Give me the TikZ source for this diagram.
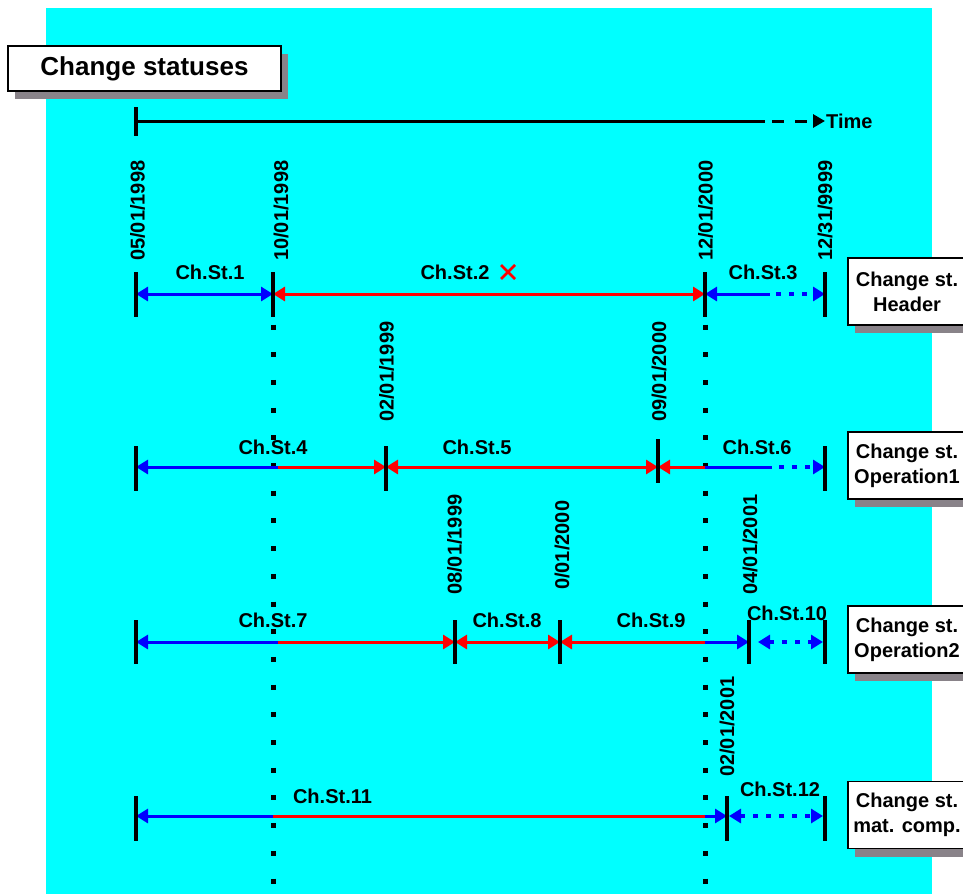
\documentclass[tikz,border=0pt]{standalone}
\usepackage{fontspec}
\setmainfont{Liberation Sans}
\usetikzlibrary{arrows.meta,shadows}
\definecolor{bgcyan}{RGB}{0,255,255}
\definecolor{shadowgrey}{RGB}{137,131,137}
\definecolor{lineblue}{RGB}{0,0,255}
\definecolor{linered}{RGB}{255,0,0}
\begin{document}
\begin{tikzpicture}[x=1pt,y=-1pt,
  font=\fontsize{20}{25}\selectfont\bfseries,
  >={Triangle[length=12pt,width=14pt]},
  tickmark/.style={line width=4pt},
  bl/.style={draw=lineblue,line width=3pt},
  rd/.style={draw=linered,line width=3pt},
  dotblue/.style={bl,line width=3.5pt,dash pattern=on 4.5pt off 8.5pt},
  vdots/.style={line width=5pt,dash pattern=on 5pt off 22.7pt},
  datelbl/.style={rotate=90,anchor=west,inner sep=0pt},
  chlbl/.style={inner sep=0pt},
  boxshadow/.style={general shadow={fill=shadowgrey,shadow xshift=7pt,shadow yshift=-8pt,opacity=1}},
  statbox/.style={draw=black,line width=1.3pt,fill=white,minimum width=118pt,minimum height=67pt,align=center,inner sep=0pt,boxshadow},
  titlebox/.style={draw=black,line width=1.5pt,fill=white,minimum width=273pt,minimum height=45pt,inner sep=0pt,font=\fontsize{26}{30}\selectfont\bfseries,boxshadow}]
\useasboundingbox (0,0) rectangle (963,894);
\clip (0,0) rectangle (963,894);
\fill[bgcyan] (46,8) rectangle (932,894);

% title
\node[titlebox] (title) at (144.5,68.5) {Change statuses};

% time axis
\coordinate (t0) at (136,121);
\coordinate (t1) at (765,121);
\coordinate (t2) at (772,121);
\coordinate (t3) at (825,121);
\draw[line width=3pt] (t0) -- (t1);
\draw[line width=3pt,dash pattern=on 12pt off 11pt,-{Triangle[length=12pt,width=13pt]}] (t2) -- (t3);
\draw[tickmark] (136,107) -- (136,136);
\node[anchor=west,inner sep=0pt] (time) at (826,121) {Time};

% dotted reference lines
\draw[vdots] (273,324.5) -- (273,894);
\draw[vdots] (705,324.5) -- (705,894);

% row 1 : header
\coordinate (h0) at (136,294);
\coordinate (h1) at (273,294);
\coordinate (h2) at (705,294);
\coordinate (hs) at (770,294);
\coordinate (hd) at (776,294);
\coordinate (h3) at (825,294);
\draw[bl,<->] (h0) -- (h1);
\draw[rd,<->] (h1) -- (h2);
\draw[bl,<-] (h2) -- (hs);
\draw[dotblue,->] (hd) -- (h3);
\foreach \x in {136,273,705,825} \draw[tickmark] (\x,272) -- (\x,317);

% row 2 : operation 1
\coordinate (a0) at (136,467);
\coordinate (as1) at (278,467);
\coordinate (a1) at (386,467);
\coordinate (a2) at (658,467);
\coordinate (as2) at (705,467);
\coordinate (as3) at (772,467);
\coordinate (asd) at (779,467);
\coordinate (a3) at (825,467);
\draw[bl,<-] (a0) -- (as1);
\draw[rd,->] (as1) -- (a1);
\draw[rd,<->] (a1) -- (a2);
\draw[rd,<-] (a2) -- (as2);
\draw[bl] (as2) -- (as3);
\draw[dotblue,->] (asd) -- (a3);
\foreach \x in {136,386,825} \draw[tickmark] (\x,446) -- (\x,491);
\draw[tickmark] (658,439) -- (658,483);

% row 3 : operation 2
\coordinate (b0) at (136,642);
\coordinate (bs1) at (278,642);
\coordinate (b1) at (455,642);
\coordinate (b2) at (560,642);
\coordinate (bs2) at (705,642);
\coordinate (b3) at (749,642);
\coordinate (b3r) at (758,642);
\coordinate (b4) at (823,642);
\draw[bl,<-] (b0) -- (bs1);
\draw[rd,->] (bs1) -- (b1);
\draw[rd,<->] (b1) -- (b2);
\draw[rd,<-] (b2) -- (bs2);
\draw[bl,->] (bs2) -- (b3);
\draw[dotblue,<->] (b3r) -- (b4);
\foreach \x in {136,455,560,749,825} \draw[tickmark] (\x,620) -- (\x,664);

% row 4 : material component
\coordinate (c0) at (136,816);
\coordinate (cs1) at (273,816);
\coordinate (cs2) at (705,816);
\coordinate (c1) at (727,816);
\coordinate (c1r) at (729,816);
\coordinate (c2) at (823,816);
\draw[bl,<-] (c0) -- (cs1);
\draw[rd] (cs1) -- (cs2);
\draw[bl,->] (cs2) -- (c1);
\draw[dotblue,<->] (c1r) -- (c2);
\foreach \x in {136,727,825} \draw[tickmark] (\x,796) -- (\x,841);

% date labels
\node[datelbl] (d1) at (137.5,261) {05/01/1998};
\node[datelbl] (d2) at (281,261) {10/01/1998};
\node[datelbl] (d3) at (705.5,261) {12/01/2000};
\node[datelbl] (d4) at (825,261) {12/31/9999};
\node[datelbl] (d5) at (386.5,422) {02/01/1999};
\node[datelbl] (d6) at (659,422) {09/01/2000};
\node[datelbl] (d7) at (454.5,595) {08/01/1999};
\node[datelbl] (d8) at (562,590) {0/01/2000};
\node[datelbl] (d9) at (750,595) {04/01/2001};
\node[datelbl] (d10) at (727,777) {02/01/2001};

% change status labels
\node[chlbl] (cs1l) at (210,272) {Ch.St.1};
\node[chlbl] (cs2l) at (455,272) {Ch.St.2};
\draw[linered,line width=2.6pt] (501,265) -- (515,279) (501,279) -- (515,265);
\node[chlbl] (cs3l) at (763,272) {Ch.St.3};
\node[chlbl] (cs4l) at (273,447) {Ch.St.4};
\node[chlbl] (cs5l) at (477,447) {Ch.St.5};
\node[chlbl] (cs6l) at (757,447) {Ch.St.6};
\node[chlbl] (cs7l) at (273,620.5) {Ch.St.7};
\node[chlbl] (cs8l) at (507,620.5) {Ch.St.8};
\node[chlbl] (cs9l) at (651,620.5) {Ch.St.9};
\node[chlbl] (cs10l) at (787,613) {Ch.St.10};
\node[chlbl] (cs11l) at (332.5,796) {Ch.St.11};
\node[chlbl] (cs12l) at (780,789) {Ch.St.12};

% status boxes
\node[statbox] (bx1) at (907,291.5) {Change st.\\Header};
\node[statbox] (bx2) at (907,465.5) {Change st.\\Operation1};
\node[statbox] (bx3) at (907,639.5) {Change st.\\Operation2};
\node[statbox] (bx4) at (907,815) {Change st.\\mat. comp.};
\end{tikzpicture}
\end{document}
